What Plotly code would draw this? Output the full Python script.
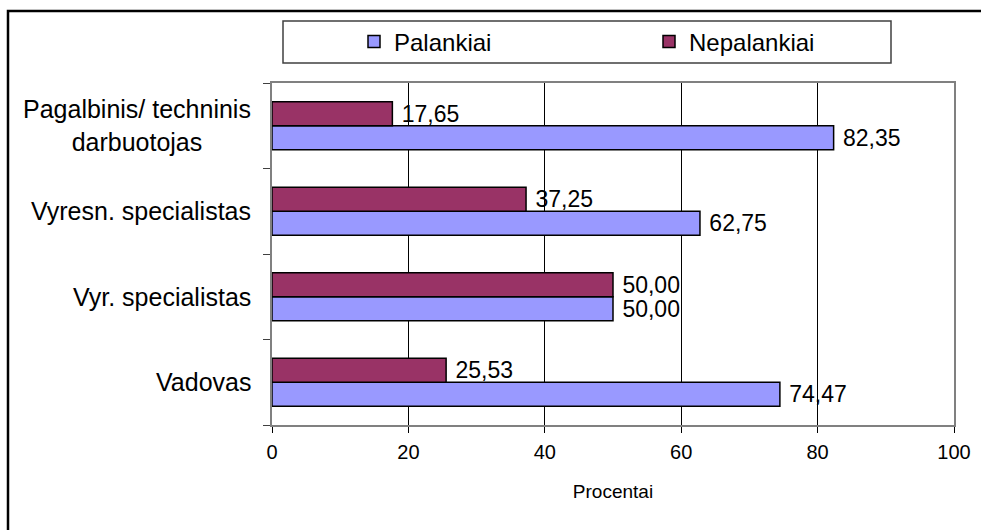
import plotly.graph_objects as go

# Job categories (bottom to top) and share of respondents, %
categories = [
    "Vadovas",
    "Vyr. specialistas",
    "Vyresn. specialistas",
    "Pagalbinis/ techninis<br>darbuotojas",
]
palankiai = [74.47, 50.00, 62.75, 82.35]
nepalankiai = [25.53, 50.00, 37.25, 17.65]
x_ticks = [0, 20, 40, 60, 80, 100]
x_title = "Procentai"

FONT = "Liberation Sans, Arial, sans-serif"

# Plot-area geometry in pixels
W, H = 981, 530
L, R, T, B = 272, 27, 83, 105
PW, PH = W - L - R, H - T - B


def px(xp):
    return (xp - L) / PW


def py(yp):
    return (H - B - yp) / PH


def fmt(v):
    return "\u00a0" + f"{v:.2f}".replace(".", ",")


fig = go.Figure()
fig.add_trace(go.Bar(
    y=categories, x=palankiai, orientation="h", name="Palankiai",
    marker=dict(color="#9999FF", line=dict(color="#000000", width=1.5)),
    text=[fmt(v) for v in palankiai], textposition="outside",
    constraintext="none", cliponaxis=False,
    textfont=dict(family=FONT, size=23, color="#000000"),
))
fig.add_trace(go.Bar(
    y=categories, x=nepalankiai, orientation="h", name="Nepalankiai",
    marker=dict(color="#993366", line=dict(color="#000000", width=1.5)),
    text=[fmt(v) for v in nepalankiai], textposition="outside",
    constraintext="none", cliponaxis=False,
    textfont=dict(family=FONT, size=23, color="#000000"),
))

# Category labels, centred line by line
annotations = [
    dict(x=0, xref="paper", y=c, yref="y", xanchor="right", xshift=-19,
         text=c, showarrow=False, align="center",
         font=dict(family=FONT, size=25, color="#000000"))
    for c in categories
]

shapes = [
    # outer chart frame
    dict(type="rect", xref="paper", yref="paper",
         x0=px(8), x1=px(1000), y0=py(545), y1=py(11),
         line=dict(color="#000000", width=2.5), fillcolor="rgba(0,0,0,0)"),
    # legend frame
    dict(type="rect", xref="paper", yref="paper",
         x0=px(283), x1=px(891), y0=py(63), y1=py(21),
         line=dict(color="#404040", width=1.5), fillcolor="#FFFFFF",
         layer="below"),
]

fig.update_layout(
    width=W, height=H,
    margin=dict(l=L, r=R, t=T, b=B, pad=0, autoexpand=False),
    paper_bgcolor="#FFFFFF", plot_bgcolor="#FFFFFF",
    barmode="group", bargap=0.44, bargroupgap=0,
    font=dict(family=FONT, color="#000000"),
    showlegend=True,
    legend=dict(
        orientation="h", x=px(354), xanchor="left", y=py(42), yanchor="middle",
        bgcolor="rgba(0,0,0,0)", borderwidth=0,
        font=dict(family=FONT, size=24, color="#000000"),
        entrywidth=250, traceorder="normal",
    ),
    annotations=annotations,
    shapes=shapes,
    xaxis=dict(
        range=[0, 100], tickvals=x_ticks, ticktext=[str(t) for t in x_ticks],
        ticks="outside", ticklen=6, tickcolor="#000000",
        tickfont=dict(family=FONT, size=20, color="#000000"),
        ticklabelstandoff=2,
        showgrid=True, gridcolor="#000000", gridwidth=1,
        zeroline=False, showline=True, mirror=True,
        linecolor="#808080", linewidth=1.5,
        title=dict(text=x_title, font=dict(family=FONT, size=19, color="#000000"),
                   standoff=23),
    ),
    yaxis=dict(
        type="category", categoryorder="array", categoryarray=categories,
        tickson="boundaries", ticks="outside", ticklen=7, tickcolor="#404040",
        showticklabels=False, showgrid=False, zeroline=False,
        showline=True, mirror=True, linecolor="#808080", linewidth=1.5,
    ),
)

fig.write_html("out.html")
